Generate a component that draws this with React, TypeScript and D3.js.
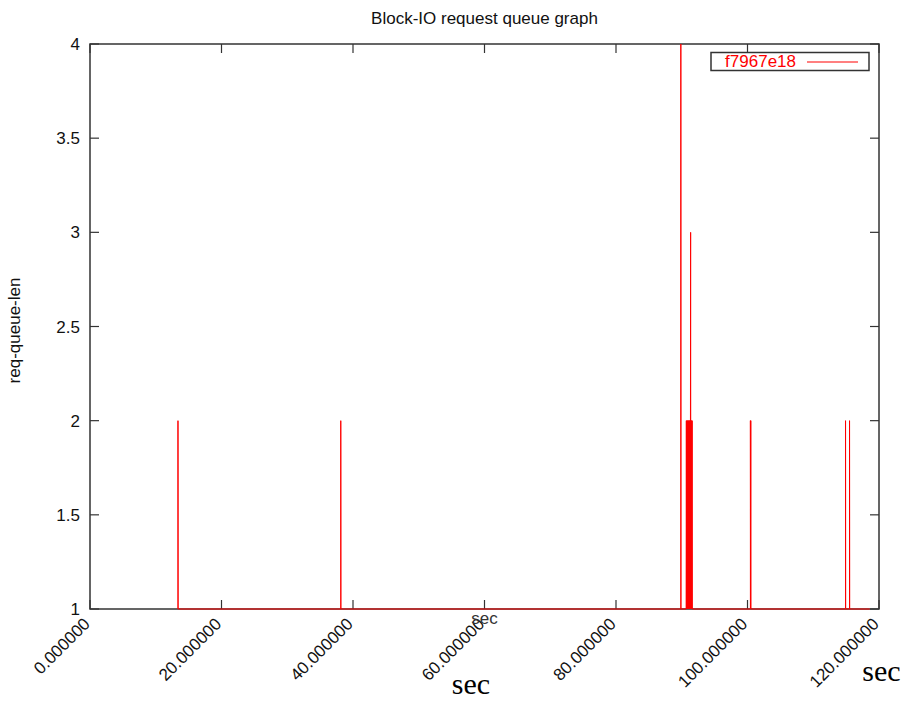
import * as d3 from 'd3';

// queue-length samples (sec, req-queue-len)
const sampleTime = [
  13.38, 13.38, 13.4,
  38.14, 38.14, 38.16,
  89.86, 89.86, 89.88,
  90.67, 90.7, 90.74, 90.78, 90.82, 90.86, 90.9, 90.94, 90.98, 91.02, 91.06, 91.1,
  91.14, 91.18, 91.22, 91.26, 91.3, 91.35, 91.38, 91.42, 91.46, 91.5, 91.54, 91.58, 91.6,
  100.44, 100.44, 100.47, 100.5, 100.52,
  114.91, 114.91, 114.93,
  115.52, 115.52, 115.54,
  118.6,
];
const queueLen = [
  1, 2, 1,
  1, 2, 1,
  1, 4, 1,
  1, 2, 1, 2, 1, 2, 1, 2, 1, 2, 1, 2,
  1, 2, 1, 2, 1, 3, 1, 2, 1, 2, 1, 2, 1,
  1, 2, 1, 2, 1,
  1, 2, 1,
  1, 2, 1,
  1,
];

const xTicks = [0, 20, 40, 60, 80, 100, 120];
const yTicks = [1, 1.5, 2, 2.5, 3, 3.5, 4];
const seriesName = 'f7967e18';

const WIDTH = 905;
const HEIGHT = 701;
const PLOT = { left: 90, right: 879, top: 44, bottom: 609 };
const TICK = 9;
const SANS = '"Liberation Sans", Arial, sans-serif';
const INK = '#333';

export default function App() {
  const x = d3.scaleLinear().domain([0, 120]).range([PLOT.left, PLOT.right]);
  const y = d3.scaleLinear().domain([1, 4]).range([PLOT.bottom, PLOT.top]);

  const points = sampleTime.map((t, i) => [t, queueLen[i]] as [number, number]);
  const line = d3.line<[number, number]>()
    .x((d) => x(d[0]))
    .y((d) => y(d[1]));

  const cx = (PLOT.left + PLOT.right) / 2;

  return (
    <svg
      width={WIDTH}
      height={HEIGHT}
      style={{ position: 'absolute', left: 0, top: 0, background: '#fff' }}
    >
      <text x={cx} y={24} textAnchor="middle" fontFamily={SANS} fontSize={17} fill="#111">
        Block-IO request queue graph
      </text>

      {/* y ticks, both sides */}
      {yTicks.map((v) => (
        <g key={`y${v}`}>
          <line x1={PLOT.left} x2={PLOT.left + TICK} y1={y(v)} y2={y(v)} stroke={INK} strokeWidth={1.2} />
          <line x1={PLOT.right} x2={PLOT.right - TICK} y1={y(v)} y2={y(v)} stroke={INK} strokeWidth={1.2} />
          <text x={80} y={y(v)} dy="0.36em" textAnchor="end" fontFamily={SANS} fontSize={17} fill="#111">
            {String(v)}
          </text>
        </g>
      ))}

      {/* x ticks, bottom and top */}
      {xTicks.map((v) => (
        <g key={`x${v}`}>
          <line x1={x(v)} x2={x(v)} y1={PLOT.bottom} y2={PLOT.bottom - TICK} stroke={INK} strokeWidth={1.2} />
          <line x1={x(v)} x2={x(v)} y1={PLOT.top} y2={PLOT.top + TICK} stroke={INK} strokeWidth={1.2} />
          <text
            transform={`translate(${x(v) + 1},${PLOT.bottom + 16}) rotate(-45)`}
            textAnchor="end"
            fontFamily={SANS}
            fontSize={17}
            fill="#111"
          >
            {v.toFixed(6)}
          </text>
        </g>
      ))}

      <rect
        x={PLOT.left}
        y={PLOT.top}
        width={PLOT.right - PLOT.left}
        height={PLOT.bottom - PLOT.top}
        fill="none"
        stroke={INK}
        strokeWidth={1.5}
      />

      <path d={line(points) ?? ''} fill="none" stroke="#ff0000" strokeWidth={1} />

      {/* legend */}
      <rect x={711} y={52.5} width={158} height={18} fill="#fff" stroke={INK} strokeWidth={1.5} />
      <text x={796} y={67} textAnchor="end" fontFamily={SANS} fontSize={17} fill="#ff0000">
        {seriesName}
      </text>
      <line x1={807} x2={858} y1={62} y2={62} stroke="#ff0000" strokeWidth={1.2} />

      <text
        transform={`translate(20,${(PLOT.top + PLOT.bottom) / 2 + 4}) rotate(-90)`}
        textAnchor="middle"
        fontFamily={SANS}
        fontSize={17}
        fill="#111"
      >
        req-queue-len
      </text>

      <text x={cx} y={624} textAnchor="middle" fontFamily={SANS} fontSize={17} fill={INK}>
        sec
      </text>

      <text x={471} y={694} textAnchor="middle" fontFamily='"Liberation Serif", serif' fontSize={30} fill="#000">
        sec
      </text>
      <text x={881.5} y={681} textAnchor="middle" fontFamily='"Liberation Serif", serif' fontSize={30} fill="#000">
        sec
      </text>
    </svg>
  );
}
